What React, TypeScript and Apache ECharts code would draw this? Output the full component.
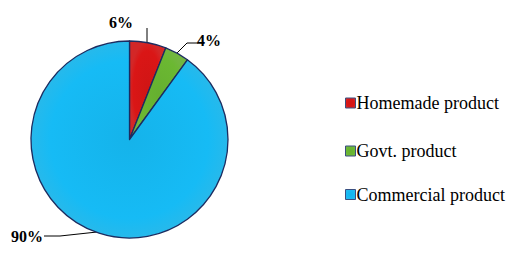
import React, { useEffect, useRef } from "react";
import * as echarts from "echarts";

const categories = ["Homemade product", "Govt. product", "Commercial product"];
const values = [6, 4, 90];
const colors = ["#d01515", "#66b030", "#15b3ea"];
const labelPos = [
  { x: 121, y: 22, line: [[147, 43], [147, 28], [147, 28]] },
  { x: 209, y: 40, line: [[177, 53], [187, 43], [198, 43]] },
  { x: 27, y: 236, line: [[97, 232], [60, 236], [44, 236]] },
];
const legendTops = [89, 137, 180.5];
const SERIF = "Liberation Serif";

export default function App() {
  const ref = useRef<HTMLDivElement>(null);
  useEffect(() => {
    const chart = echarts.init(ref.current!, null, { renderer: "svg" });
    chart.setOption({
      animation: false,
      backgroundColor: "#ffffff",
      textStyle: { fontFamily: SERIF },
      legend: categories.map((c, i) => ({
        orient: "vertical",
        left: 340,
        top: legendTops[i],
        itemWidth: 10,
        itemHeight: 10,
        icon: "rect",
        data: [c],
        itemStyle: { borderColor: "#3a4f80", borderWidth: 1 },
        textStyle: {
          fontFamily: SERIF,
          fontSize: 18,
          color: "#000",
          padding: [0, 0, 0, -4],
        },
      })),
      series: [
        {
          type: "pie",
          center: [129.5, 139.5],
          radius: 98.5,
          startAngle: 90,
          clockwise: true,
          data: categories.map((c, i) => ({
            name: c,
            value: values[i],
            itemStyle: {
              color: new echarts.graphic.RadialGradient(0.5, 0.5, 0.5, [
                { offset: 0, color: colors[i] },
                { offset: 0.8, color: echarts.color.lift(colors[i], -0.05) },
                { offset: 1, color: echarts.color.lift(colors[i], 0.08) },
              ]),
            },
          })),
          itemStyle: { borderColor: "#1c2c60", borderWidth: 1.3 },
          label: {
            show: true,
            position: "outside",
            formatter: "{d}%",
            fontFamily: SERIF,
            fontWeight: "bold",
            fontSize: 16,
            color: "#000",
          },
          labelLine: {
            show: true,
            length: 10,
            length2: 10,
            lineStyle: { color: "#000", width: 1 },
          },
          labelLayout: (params: any) => {
            const p = labelPos[params.dataIndex];
            return {
              x: p.x,
              y: p.y,
              align: "center",
              verticalAlign: "middle",
              labelLinePoints: p.line,
            };
          },
          emphasis: { disabled: true },
        },
      ],
    });
    return () => chart.dispose();
  }, []);
  return (
    <div
      ref={ref}
      style={{ position: "fixed", left: 0, top: 0, width: 531, height: 258 }}
    />
  );
}
